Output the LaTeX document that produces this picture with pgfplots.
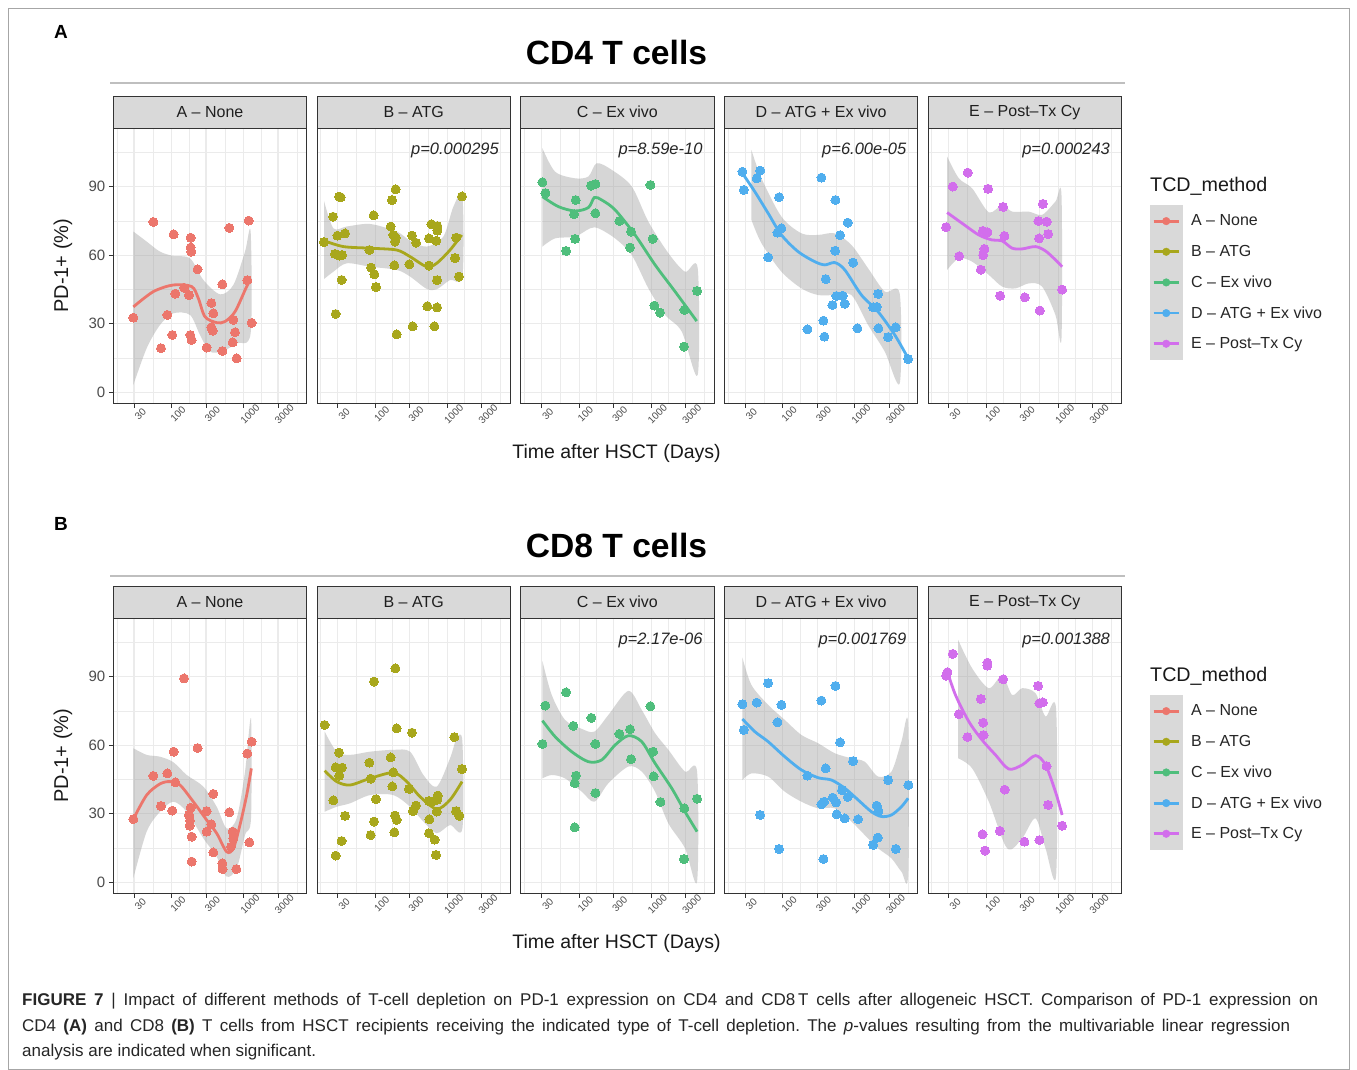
\documentclass[border=0pt]{standalone}
\usepackage{pgfplots}
\pgfplotsset{compat=1.18}
\usepackage{fontspec}
\setmainfont{Liberation Sans}
\setsansfont{Liberation Sans}
\frenchspacing

\definecolor{cA}{HTML}{EC766C}
\definecolor{cB}{HTML}{A8A71C}
\definecolor{cC}{HTML}{4FBE7C}
\definecolor{cD}{HTML}{50AEEE}
\definecolor{cE}{HTML}{D26EEC}
\definecolor{gridc}{HTML}{EBEBEB}
\definecolor{stripc}{HTML}{D9D9D9}
\definecolor{bordc}{HTML}{333333}
\definecolor{tickc}{HTML}{4D4D4D}
\definecolor{ribc}{HTML}{999999}

\newcommand\fs[1]{\fontsize{#1}{#1}\selectfont}

\pgfplotsset{
 facet/.style={
   scale only axis, width=193.4pt, height=275pt,
   xmin=1.1896, xmax=3.8757, ymin=-4.8, ymax=115.6,
   xtick={1.4771,2,2.4771,3,3.4771},
   xticklabels={30,100,300,1000,3000},
   minor xtick={1.2386,1.7386,2.2386,2.7386,3.2386,3.7386},
   ytick={0,30,60,90},
   minor ytick={15,45,75,105},
   grid=both,
   major grid style={draw=gridc, line width=1.1pt},
   minor grid style={draw=gridc, line width=0.55pt},
   axis line style={draw=bordc, line width=0.7pt},
   tick align=outside, xtick pos=bottom, ytick pos=left,
   major tick length=4.5pt, minor tick length=0pt,
   tick style={draw=bordc, line width=0.7pt},
   xticklabel style={font=\fs{10}, text=tickc, rotate=45, anchor=center, yshift=-9pt},
   yticklabels={},
   every y tick/.append style={draw=none},
   title style={at={(0.5,1)}, anchor=south, draw=bordc, line width=0.7pt, fill=stripc,
     minimum width=193.4pt, minimum height=31.6pt, inner sep=0pt, font=\fs{16}, text=black!88, yshift=-6pt},
 },
 firstcol/.style={yticklabels={0,30,60,90}, every y tick/.append style={draw=bordc},
   yticklabel style={font=\fs{15}, text=tickc}},
 pts/.style={forget plot, only marks, color=#1, mark=*, mark size=4.5pt, mark options={draw=#1, fill=#1, line width=0pt}},
 rib/.style={forget plot, draw=none, fill=ribc, fill opacity=0.4, smooth, tension=0.5, no marks},
 fit/.style={forget plot, draw=#1, line width=2.8pt, smooth, tension=0.5, no marks},
 tcdlegend/.style={
   legend style={at={(1.1448,0.7200)}, anchor=north west, draw=none, fill=none,
     inner sep=0pt, row sep=-0.6pt, column sep=9pt, font=\fs{16}, text=black!85,
     nodes={inner sep=0pt}},
   legend cell align=left,
   legend image code/.code={
     \fill[stripc] (0pt,-15.43pt) rectangle (32pt,15.43pt);
     \draw[line width=2.8pt] (3.8pt,0pt) -- (28.8pt,0pt);
     \fill (16.3pt,0pt) circle (3.8pt);
   },
 },
}
\newcommand\pval[1]{\node[anchor=east, font=\fs{16.5}\itshape, text=black!85, inner sep=0pt] at (rel axis cs:0.941,0.921) {#1};}
\newcommand\tcdentries{%
  \addlegendimage{cA}\addlegendentry{A -- None}
  \addlegendimage{cB}\addlegendentry{B -- ATG}
  \addlegendimage{cC}\addlegendentry{C -- Ex vivo}
  \addlegendimage{cD}\addlegendentry{D -- ATG + Ex vivo}
  \addlegendimage{cE}\addlegendentry{E -- Post--Tx Cy}}

\begin{document}
\begin{tikzpicture}[x=1pt,y=1pt]
\useasboundingbox (0pt,0pt) rectangle (1357pt,1070pt);
\fill[white] (0pt,0pt) rectangle (1357pt,1070pt);
\draw[gray!70, line width=0.8pt] (8pt,1pt) rectangle (1349pt,1062pt);

% ---------- headings ----------
\node[font=\fs{19}\bfseries] at (61pt,1038pt) {A};
\node[font=\fs{33.6}\bfseries] at (616.5pt,1017pt) {CD4 T cells};
\draw[black!25, line width=1.5pt] (110pt,987pt) -- (1125pt,987pt);
\node[font=\fs{19.5}, text=black!90] at (616.5pt,617pt) {Time after HSCT (Days)};
\node[font=\fs{20}, text=black!90, rotate=90] at (63pt,804.2pt) {PD-1+ (\%)};
\node[font=\fs{19.7}, anchor=base west, inner sep=0pt, text=black!90] at (1150pt,878.5pt) {TCD\_method};

\node[font=\fs{19}\bfseries] at (61pt,546pt) {B};
\node[font=\fs{33.6}\bfseries] at (616.5pt,525pt) {CD8 T cells};
\draw[black!25, line width=1.5pt] (110pt,494pt) -- (1125pt,494pt);
\node[font=\fs{19.5}, text=black!90] at (616.5pt,127pt) {Time after HSCT (Days)};
\node[font=\fs{20}, text=black!90, rotate=90] at (63pt,314.2pt) {PD-1+ (\%)};
\node[font=\fs{19.7}, anchor=base west, inner sep=0pt, text=black!90] at (1150pt,388.5pt) {TCD\_method};

% ================= CD4 =================
\begin{axis}[facet, firstcol, at={(113.3pt,666.7pt)}, anchor=south west, title={A -- None}]
\addplot[pts=cA] coordinates {(1.468,32.7) (1.746,74.6) (1.852,19.3) (1.940,33.9) (2.009,25.1) (2.028,69.2) (2.051,43.2) (2.172,45.8) (2.241,42.6) (2.264,67.7) (2.264,63.4) (2.273,61.6) (2.259,25.1) (2.278,22.9) (2.361,53.9) (2.486,19.6) (2.551,39.1) (2.579,34.6) (2.551,28.5) (2.570,27.0) (2.704,47.3) (2.704,18.1) (2.801,72.0) (2.857,31.7) (2.880,26.3) (2.848,21.9) (2.903,14.9) (3.070,75.2) (3.051,49.1) (3.111,30.4)};
\addplot[rib] coordinates {(1.468,70.4) (1.653,66.0) (1.838,61.6) (2.023,59.7) (2.255,58.7) (2.440,49.2) (2.672,42.9) (2.857,47.0) (3.019,61.6) (3.097,70.4) (3.097,25.8) (2.903,21.5) (2.718,18.1) (2.533,17.8) (2.394,25.1) (2.255,33.9) (2.023,34.6) (1.838,29.5) (1.653,19.3) (1.468,3.2)} -- cycle;
\addplot[fit=cA] coordinates {(1.468,37.4) (1.746,44.1) (2.023,47.0) (2.278,46.3) (2.370,41.2) (2.463,33.1) (2.625,30.5) (2.741,31.0) (2.880,35.3) (3.042,46.3) (3.097,49.2)};
\end{axis}

\begin{axis}[facet, at={(317pt,666.7pt)}, anchor=south west, title={B -- ATG}]
\addplot[pts=cB] coordinates {(1.287,65.8) (1.412,76.9) (1.496,85.7) (1.519,85.4) (1.473,68.6) (1.579,69.6) (1.440,60.6) (1.500,59.9) (1.537,60.1) (1.532,49.2) (1.449,34.3) (1.917,62.3) (1.977,77.5) (1.940,54.6) (1.986,51.7) (2.009,46.1) (2.213,72.6) (2.231,84.2) (2.282,88.9) (2.250,68.9) (2.282,67.7) (2.273,66.0) (2.264,55.6) (2.296,25.4) (2.472,56.1) (2.509,68.6) (2.565,65.5) (2.519,28.9) (2.722,37.7) (2.745,67.4) (2.745,55.5) (2.778,73.6) (2.861,72.8) (2.861,70.8) (2.847,66.4) (2.857,49.1) (2.857,37.2) (2.820,28.9) (3.107,58.8) (3.121,67.7) (3.162,50.7) (3.204,85.8)};
\addplot[rib] coordinates {(1.287,83.8) (1.417,71.8) (1.602,72.6) (1.926,73.7) (2.297,70.4) (2.482,66.4) (2.713,63.8) (2.945,68.2) (3.084,81.3) (3.209,85.7) (3.209,50.7) (3.037,49.2) (2.852,45.1) (2.713,45.3) (2.482,50.7) (2.297,53.6) (1.926,55.0) (1.602,56.5) (1.417,52.8) (1.287,49.6)} -- cycle;
\addplot[fit=cB] coordinates {(1.287,66.4) (1.556,63.8) (1.926,63.1) (2.297,62.3) (2.482,59.4) (2.713,55.0) (2.852,56.5) (3.037,62.3) (3.199,68.9)};
\pval{p=0.000295}
\end{axis}

\begin{axis}[facet, at={(520.7pt,666.7pt)}, anchor=south west, title={C -- Ex vivo}]
\addplot[pts=cC] coordinates {(1.491,92.0) (1.533,87.2) (1.820,61.9) (1.954,84.2) (1.931,78.0) (1.945,67.2) (2.167,90.5) (2.227,91.2) (2.227,78.4) (2.560,75.0) (2.722,70.4) (2.708,63.4) (2.991,90.8) (3.023,67.2) (3.046,38.0) (3.125,34.9) (3.463,36.1) (3.458,20.0) (3.639,44.4)};
\addplot[rib] coordinates {(1.491,106.9) (1.667,96.6) (1.945,93.7) (2.130,94.5) (2.246,100.3) (2.454,97.4) (2.732,90.1) (2.963,74.7) (3.241,60.9) (3.472,52.8) (3.648,54.3) (3.648,7.6) (3.426,26.6) (3.195,33.9) (2.963,45.5) (2.732,60.1) (2.500,67.4) (2.269,71.8) (2.153,71.8) (1.945,68.2) (1.667,67.4) (1.491,63.8)} -- cycle;
\addplot[fit=cC] coordinates {(1.491,85.7) (1.713,81.3) (1.945,79.4) (2.130,80.9) (2.213,85.3) (2.315,84.2) (2.500,79.9) (2.778,68.9) (3.056,55.8) (3.334,44.1) (3.634,31.2)};
\pval{p=8.59e-10}
\end{axis}

\begin{axis}[facet, at={(724.4pt,666.7pt)}, anchor=south west, title={D -- ATG + Ex vivo}]
\addplot[pts=cD] coordinates {(1.440,96.6) (1.459,88.6) (1.639,93.7) (1.686,97.1) (1.797,59.1) (1.949,85.4) (1.926,69.9) (1.982,71.8) (2.343,27.6) (2.537,94.0) (2.565,31.4) (2.579,24.4) (2.597,49.6) (2.690,38.2) (2.732,84.2) (2.727,62.0) (2.745,42.2) (2.796,68.8) (2.833,42.3) (2.861,38.8) (2.903,74.3) (2.977,56.8) (3.037,28.0) (3.255,37.2) (3.306,37.4) (3.325,43.1) (3.329,28.0) (3.463,24.2) (3.570,28.5) (3.741,14.6)};
\addplot[rib] coordinates {(1.565,106.1) (1.704,93.7) (1.982,76.9) (2.260,69.6) (2.491,68.9) (2.723,69.6) (2.954,64.5) (3.185,54.3) (3.417,44.1) (3.625,43.1) (3.625,3.9) (3.417,17.8) (3.185,29.5) (2.954,42.6) (2.723,42.6) (2.491,42.6) (2.260,45.5) (1.982,52.8) (1.704,65.3) (1.565,75.5)} -- cycle;
\addplot[fit=cD] coordinates {(1.440,95.9) (1.611,87.9) (1.797,78.4) (1.982,68.9) (2.213,61.6) (2.445,57.2) (2.584,55.8) (2.723,56.8) (2.862,53.6) (3.093,42.6) (3.324,35.3) (3.556,25.1) (3.741,14.9)};
\pval{p=6.00e-05}
\end{axis}

\begin{axis}[facet, tcdlegend, at={(928.1pt,666.7pt)}, anchor=south west, title={E -- Post--Tx Cy}]
\addplot[pts=cE] coordinates {(1.440,72.3) (1.532,90.1) (1.621,59.6) (1.741,96.2) (1.922,53.7) (1.949,70.7) (2.014,70.1) (1.972,62.8) (1.954,60.1) (2.023,89.1) (2.190,42.3) (2.232,81.2) (2.250,68.5) (2.533,41.6) (2.722,75.0) (2.732,67.4) (2.741,35.8) (2.783,82.5) (2.838,74.7) (2.857,69.3) (3.051,45.0)};
\addplot[rib] coordinates {(1.454,103.2) (1.616,93.7) (1.801,89.3) (2.033,78.8) (2.218,82.0) (2.357,79.1) (2.588,79.1) (2.773,77.7) (2.958,83.5) (3.042,86.4) (3.042,23.6) (2.958,33.9) (2.773,46.3) (2.588,47.7) (2.403,45.5) (2.218,46.3) (2.033,51.4) (1.801,57.2) (1.616,58.7) (1.454,53.6)} -- cycle;
\addplot[fit=cE] coordinates {(1.454,78.7) (1.662,74.0) (1.894,68.9) (2.079,66.7) (2.218,66.3) (2.357,63.1) (2.496,62.8) (2.681,63.8) (2.820,61.9) (2.958,58.0) (3.051,55.0)};
\pval{p=0.000243}
\tcdentries
\end{axis}

% ================= CD8 =================
\begin{axis}[facet, firstcol, at={(113.3pt,176.7pt)}, anchor=south west, title={A -- None}]
\addplot[pts=cA] coordinates {(1.468,27.7) (1.746,46.6) (1.852,33.4) (1.940,47.7) (2.009,31.4) (2.028,57.2) (2.051,43.8) (2.172,89.3) (2.241,29.5) (2.264,32.7) (2.255,27.0) (2.250,24.8) (2.278,20.0) (2.278,9.1) (2.361,58.8) (2.486,31.2) (2.486,22.2) (2.551,25.4) (2.579,38.7) (2.579,13.1) (2.704,8.3) (2.708,5.8) (2.801,30.7) (2.848,22.2) (2.857,19.3) (2.824,15.6) (2.898,5.8) (3.051,56.4) (3.111,61.6) (3.079,17.5)};
\addplot[rib] coordinates {(1.468,58.7) (1.653,55.8) (1.838,55.0) (2.023,52.6) (2.209,47.0) (2.440,41.9) (2.625,33.1) (2.764,23.6) (2.903,28.0) (3.019,48.5) (3.102,71.8) (3.102,28.0) (3.019,20.7) (2.903,6.1) (2.764,2.5) (2.625,11.2) (2.440,19.3) (2.209,30.9) (2.023,35.3) (1.838,30.9) (1.653,22.2) (1.468,1.8)} -- cycle;
\addplot[fit=cA] coordinates {(1.468,27.7) (1.653,38.2) (1.838,43.1) (1.977,44.1) (2.116,42.6) (2.301,35.3) (2.486,27.3) (2.625,21.5) (2.764,13.4) (2.857,14.9) (2.949,25.1) (3.042,38.2) (3.107,49.9)};
\end{axis}

\begin{axis}[facet, at={(317pt,176.7pt)}, anchor=south west, title={B -- ATG}]
\addplot[pts=cB] coordinates {(1.296,68.9) (1.496,56.8) (1.449,50.4) (1.537,50.2) (1.500,46.7) (1.417,35.9) (1.579,29.1) (1.532,18.1) (1.449,11.7) (1.917,52.4) (1.935,45.4) (2.009,36.4) (1.982,87.9) (1.982,26.6) (1.935,20.7) (2.213,54.7) (2.250,48.2) (2.236,42.0) (2.278,93.7) (2.296,67.4) (2.273,29.2) (2.296,27.3) (2.264,21.9) (2.509,65.5) (2.468,40.9) (2.565,33.6) (2.523,31.2) (2.745,35.6) (2.782,35.3) (2.750,27.6) (2.745,21.5) (2.824,18.7) (2.843,12.0) (2.866,38.0) (2.857,36.1) (2.852,31.0) (3.097,63.6) (3.121,31.2) (3.167,29.1) (3.204,49.6)};
\addplot[rib] coordinates {(1.296,66.0) (1.463,57.2) (1.648,55.8) (1.926,57.2) (2.250,58.0) (2.482,57.2) (2.667,47.0) (2.852,41.9) (3.037,54.3) (3.130,63.1) (3.209,61.6) (3.209,23.6) (3.037,25.1) (2.852,21.5) (2.667,26.6) (2.482,33.1) (2.250,38.2) (1.926,38.2) (1.648,34.6) (1.463,33.1) (1.296,30.9)} -- cycle;
\addplot[fit=cB] coordinates {(1.296,48.9) (1.463,44.1) (1.648,42.6) (1.926,45.5) (2.250,48.0) (2.436,44.1) (2.621,37.5) (2.852,32.1) (3.037,36.1) (3.204,44.1)};
\end{axis}

\begin{axis}[facet, at={(520.7pt,176.7pt)}, anchor=south west, title={C -- Ex vivo}]
\addplot[pts=cC] coordinates {(1.491,60.6) (1.533,77.4) (1.820,83.2) (1.921,68.5) (1.958,46.7) (1.940,43.4) (1.940,24.1) (2.171,72.0) (2.227,60.6) (2.227,39.1) (2.560,65.0) (2.708,67.0) (2.722,53.9) (2.991,77.1) (3.028,57.2) (3.037,46.4) (3.130,35.2) (3.463,32.4) (3.458,10.2) (3.639,36.6)};
\addplot[rib] coordinates {(1.491,96.9) (1.621,82.0) (1.806,71.1) (2.037,67.2) (2.213,66.0) (2.408,73.3) (2.685,83.8) (2.870,75.5) (3.056,65.3) (3.241,58.0) (3.472,48.5) (3.639,48.5) (3.639,0.3) (3.472,14.9) (3.241,25.8) (3.056,39.7) (2.870,48.5) (2.685,50.7) (2.408,43.4) (2.213,35.3) (2.037,39.7) (1.806,45.5) (1.621,47.0) (1.491,45.5)} -- cycle;
\addplot[fit=cC] coordinates {(1.491,70.8) (1.667,63.8) (1.898,57.2) (2.130,52.8) (2.315,53.6) (2.500,60.1) (2.685,64.2) (2.870,61.6) (3.056,52.1) (3.287,41.2) (3.472,30.9) (3.639,22.2)};
\pval{p=2.17e-06}
\end{axis}

\begin{axis}[facet, at={(724.4pt,176.7pt)}, anchor=south west, title={D -- ATG + Ex vivo}]
\addplot[pts=cD] coordinates {(1.440,78.0) (1.459,66.7) (1.639,78.7) (1.797,87.2) (1.686,29.5) (1.982,77.7) (1.926,70.1) (1.949,14.6) (2.343,46.7) (2.537,79.6) (2.537,34.2) (2.574,35.3) (2.565,10.2) (2.597,49.9) (2.694,37.1) (2.732,86.0) (2.741,35.0) (2.750,29.8) (2.796,61.3) (2.824,40.4) (2.861,28.0) (2.903,37.4) (2.977,53.1) (3.046,27.6) (3.255,16.4) (3.306,33.6) (3.329,31.2) (3.320,19.6) (3.463,44.8) (3.570,14.6) (3.745,42.6)};
\addplot[rib] coordinates {(1.440,98.4) (1.565,86.4) (1.797,77.7) (2.028,71.1) (2.260,64.5) (2.491,60.9) (2.723,56.5) (2.954,54.3) (3.139,52.8) (3.324,46.3) (3.510,48.5) (3.648,61.6) (3.741,69.6) (3.741,3.2) (3.648,4.7) (3.510,10.5) (3.324,14.9) (3.139,20.7) (2.954,26.6) (2.723,32.4) (2.491,32.4) (2.260,35.3) (2.028,39.7) (1.797,46.3) (1.565,47.7) (1.440,44.8)} -- cycle;
\addplot[fit=cD] coordinates {(1.440,71.5) (1.611,66.0) (1.797,61.6) (2.028,55.0) (2.260,49.2) (2.491,45.8) (2.676,44.8) (2.862,41.2) (3.046,36.1) (3.232,30.9) (3.371,28.8) (3.510,29.5) (3.648,33.1) (3.741,36.8)};
\pval{p=0.001769}
\end{axis}

\begin{axis}[facet, tcdlegend, at={(928.1pt,176.7pt)}, anchor=south west, title={E -- Post--Tx Cy}]
\addplot[pts=cE] coordinates {(1.440,90.5) (1.458,92.0) (1.532,100.0) (1.616,73.6) (1.736,63.6) (1.922,80.3) (1.954,69.9) (1.959,64.5) (2.014,96.2) (2.014,94.9) (1.945,21.0) (1.981,13.9) (2.185,22.5) (2.232,88.9) (2.254,40.6) (2.528,17.8) (2.718,86.0) (2.736,18.5) (2.736,78.4) (2.783,78.8) (2.834,50.9) (2.857,33.9) (3.051,24.8)};
\addplot[rib] coordinates {(1.607,106.1) (1.801,93.7) (2.033,85.0) (2.218,90.5) (2.357,82.0) (2.496,85.0) (2.681,82.8) (2.820,72.6) (2.968,75.5) (2.968,3.2) (2.820,14.9) (2.681,28.0) (2.496,19.3) (2.287,14.9) (2.033,35.3) (1.801,49.9) (1.607,54.3)} -- cycle;
\addplot[fit=cE] coordinates {(1.454,92.6) (1.570,82.0) (1.755,70.4) (1.940,62.3) (2.125,55.8) (2.310,49.6) (2.496,51.4) (2.681,55.5) (2.820,51.4) (2.958,39.7) (3.051,29.5)};
\pval{p=0.001388}
\tcdentries
\end{axis}

% ---------- caption ----------
\node[anchor=base west, inner sep=0pt, font=\fs{17}, text=black!85] at (22pt,64pt) {\makebox[1296pt][s]{\textbf{FIGURE 7} | Impact of different methods of T-cell depletion on PD-1 expression on CD4 and CD8\,T cells after allogeneic HSCT. Comparison of PD-1 expression on}};
\node[anchor=base west, inner sep=0pt, font=\fs{17}, text=black!85] at (22pt,38pt) {\makebox[1268pt][s]{CD4 \textbf{(A)} and CD8 \textbf{(B)} T cells from HSCT recipients receiving the indicated type of T-cell depletion. The \textit{p}-values resulting from the multivariable linear regression}};
\node[anchor=base west, inner sep=0pt, font=\fs{17}, text=black!85] at (22pt,13pt) {analysis are indicated when significant.};
\end{tikzpicture}
\end{document}
